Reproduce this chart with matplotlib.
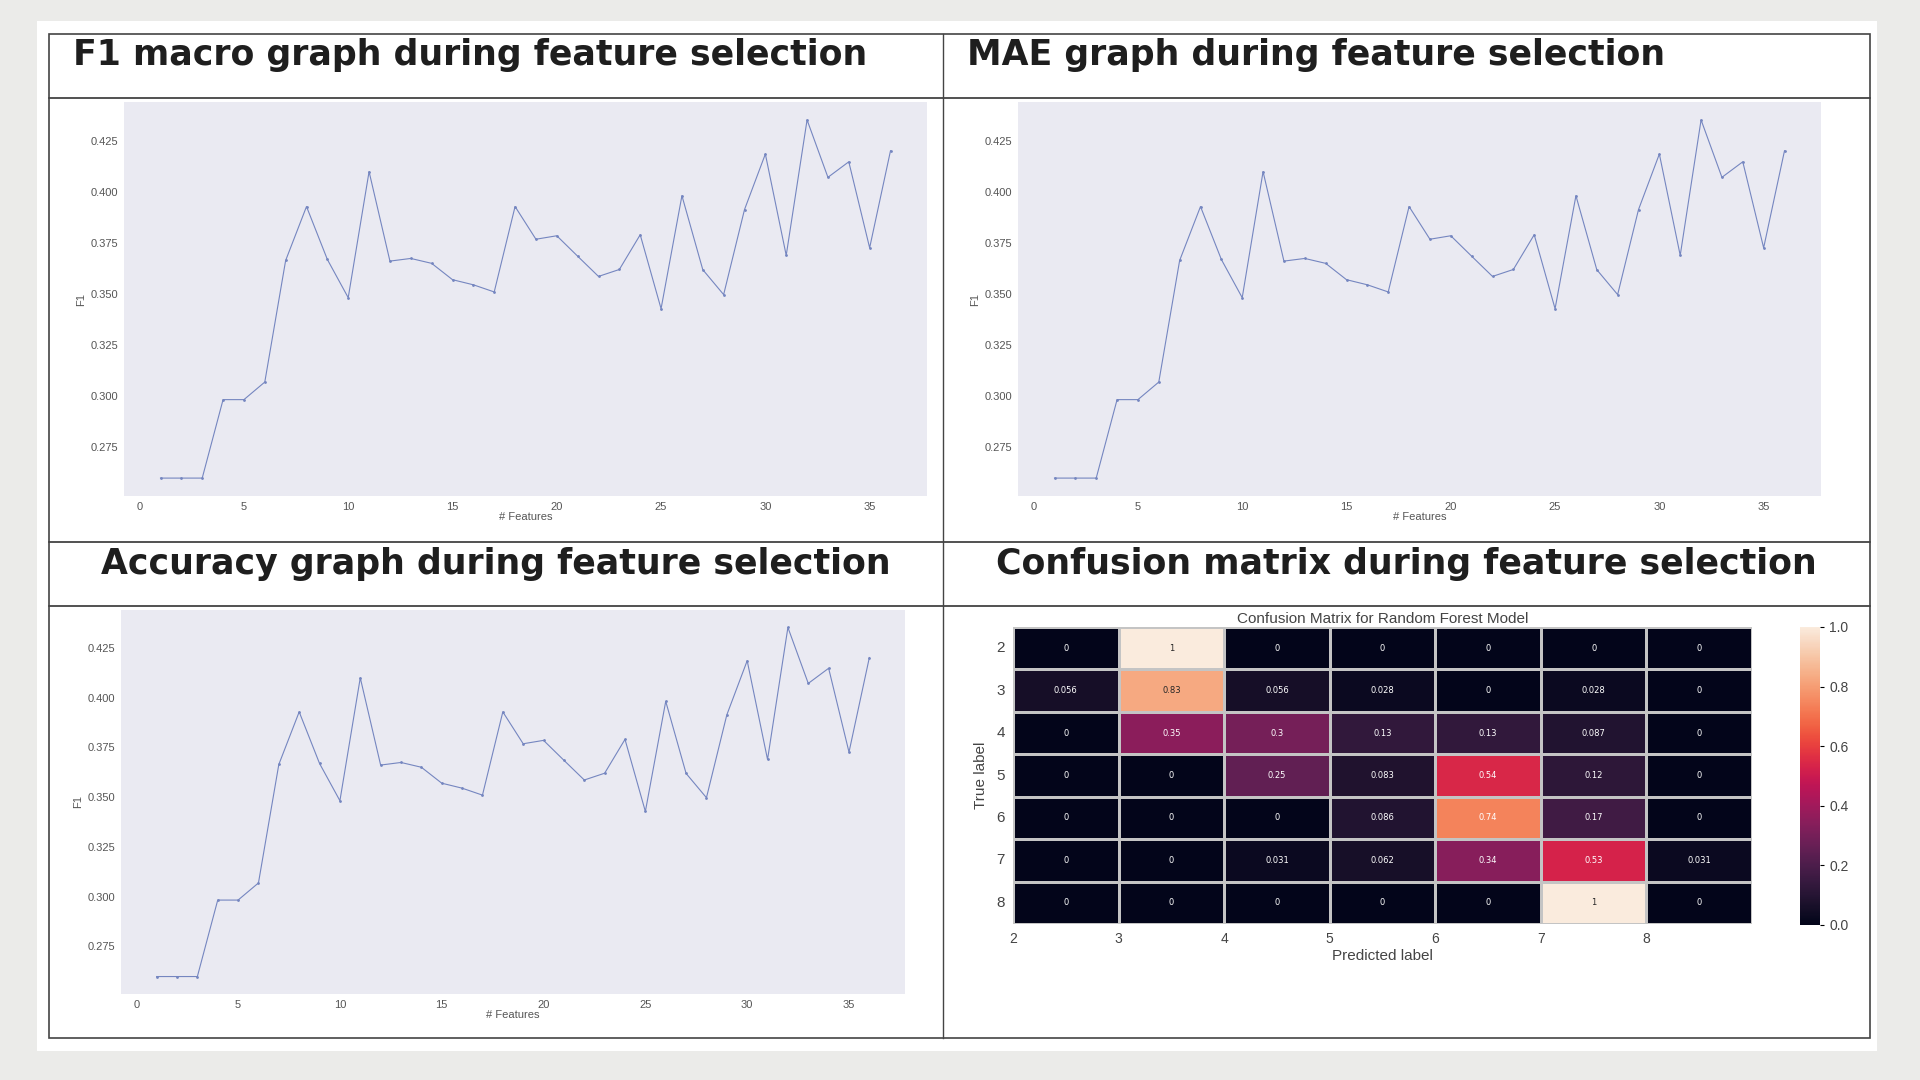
import matplotlib
matplotlib.use('Agg')
import matplotlib.pyplot as plt
import numpy as np
import seaborn as sns
from matplotlib.patches import Rectangle
from matplotlib.lines import Line2D

# --- data ---
n_features = list(range(1, 37))
f1_scores = [0.2599, 0.2599, 0.2599, 0.2983, 0.2983, 0.3069, 0.3664, 0.3928, 0.3669, 0.3482,
             0.4099, 0.3661, 0.3674, 0.3650, 0.3570, 0.3545, 0.3510, 0.3928, 0.3768, 0.3785,
             0.3685, 0.3586, 0.3620, 0.3790, 0.3428, 0.3981, 0.3619, 0.3497, 0.3913, 0.4185,
             0.3689, 0.4352, 0.4071, 0.4147, 0.3726, 0.4201]

class_labels = ['2', '3', '4', '5', '6', '7', '8']
conf_matrix = [
    [0, 1, 0, 0, 0, 0, 0],
    [0.056, 0.83, 0.056, 0.028, 0, 0.028, 0],
    [0, 0.35, 0.3, 0.13, 0.13, 0.087, 0],
    [0, 0, 0.25, 0.083, 0.54, 0.12, 0],
    [0, 0, 0, 0.086, 0.74, 0.17, 0],
    [0, 0, 0.031, 0.062, 0.34, 0.53, 0.031],
    [0, 0, 0, 0, 0, 1, 0],
]

panel_titles = ['F1 macro graph during feature selection',
                'MAE graph during feature selection',
                'Accuracy graph during feature selection',
                'Confusion matrix during feature selection']

W, H = 1920, 1080
SMALL_FONT = ['Liberation Sans', 'DejaVu Sans']


def fx(px):
    return px / W


def fy(py):
    return 1 - py / H


fig = plt.figure(figsize=(19.2, 10.8), dpi=100)
fig.patch.set_facecolor('#EBEBE9')

# white card + table grid (kept behind the axes)
fig.patches.append(Rectangle((fx(37), fy(1051)), fx(1877) - fx(37), fy(21) - fy(1051),
                             transform=fig.transFigure, facecolor='white', edgecolor='none', zorder=-2))
fig.patches.append(Rectangle((fx(49), fy(1038)), fx(1870) - fx(49), fy(34) - fy(1038),
                             transform=fig.transFigure, facecolor='none', edgecolor='#444444',
                             linewidth=1.2, zorder=-1))
for yy in [98, 542, 606]:
    fig.lines.append(Line2D([fx(49), fx(1870)], [fy(yy), fy(yy)], transform=fig.transFigure,
                            color='#333333', linewidth=1.2, zorder=-1))
fig.lines.append(Line2D([fx(943), fx(943)], [fy(34), fy(1038)], transform=fig.transFigure,
                        color='#444444', linewidth=1.0, zorder=-1))

title_kw = dict(fontsize=25, fontweight='bold', family='DejaVu Sans', color='#1e1e1e', va='center')
fig.text(fx(73), fy(55), panel_titles[0], ha='left', **title_kw)
fig.text(fx(967), fy(55), panel_titles[1], ha='left', **title_kw)
fig.text(fx(496), fy(564), panel_titles[2], ha='center', **title_kw)
fig.text(fx(1406), fy(564), panel_titles[3], ha='center', **title_kw)


def line_panel(rect):
    ax = fig.add_axes(rect)
    ax.set_facecolor('#EAEAF2')
    for s in ax.spines.values():
        s.set_visible(False)
    ax.plot(n_features, f1_scores, color='#7586c0', linewidth=0.8, marker='.', markersize=2)
    ax.set_xticks(range(0, 36, 5))
    ax.set_yticks([0.275, 0.300, 0.325, 0.350, 0.375, 0.400, 0.425])
    ax.tick_params(length=0, labelsize=8, labelcolor='#555555', pad=4)
    for lab in ax.get_xticklabels() + ax.get_yticklabels():
        lab.set_family(SMALL_FONT)
    ax.set_xlabel('# Features', fontsize=8, color='#555555', labelpad=0, family=SMALL_FONT)
    ax.set_ylabel('F1', fontsize=8, color='#555555', labelpad=3, family=SMALL_FONT)
    return ax


line_panel([fx(124), fy(496), fx(927) - fx(124), fy(102) - fy(496)])
line_panel([fx(1018), fy(496), fx(1821) - fx(1018), fy(102) - fy(496)])
line_panel([fx(121), fy(994), fx(905) - fx(121), fy(610) - fy(994)])

# confusion matrix
ax_cm = fig.add_axes([fx(1013), fy(924), fx(1752) - fx(1013), fy(627) - fy(924)])
ax_cb = fig.add_axes([fx(1800), fy(925), fx(1820) - fx(1800), fy(627) - fy(925)])
sns.heatmap(np.array(conf_matrix), annot=True, fmt='.2g', cmap='rocket', vmin=0, vmax=1,
            linewidths=1.0, linecolor='#c4c4c4', ax=ax_cm, cbar_ax=ax_cb,
            annot_kws={'fontsize': 6})
ax_cm.set_title('Confusion Matrix for Random Forest Model', fontsize=11, color='#444444', pad=3,
                family=SMALL_FONT)
ax_cm.set_yticks(np.arange(len(class_labels)) + 0.5)
ax_cm.set_yticklabels(class_labels, rotation=0, fontsize=11, color='#444444', family=SMALL_FONT)
ax_cm.set_xticks(np.arange(len(class_labels)))
ax_cm.set_xticklabels(class_labels, rotation=0, fontsize=10, color='#444444', family=SMALL_FONT)
ax_cm.tick_params(length=0, pad=6)
ax_cm.set_ylabel('True label', fontsize=11, color='#444444', labelpad=6, family=SMALL_FONT)
ax_cm.set_xlabel('Predicted label', fontsize=11, color='#444444', labelpad=2, family=SMALL_FONT)
ax_cb.tick_params(labelsize=10, labelcolor='#444444', length=3)
ax_cb.set_yticks([0.0, 0.2, 0.4, 0.6, 0.8, 1.0])
for lab in ax_cb.get_yticklabels():
    lab.set_family(SMALL_FONT)
for s in ax_cb.spines.values():
    s.set_visible(False)

fig.savefig('out.png', dpi=100, facecolor=fig.get_facecolor())
